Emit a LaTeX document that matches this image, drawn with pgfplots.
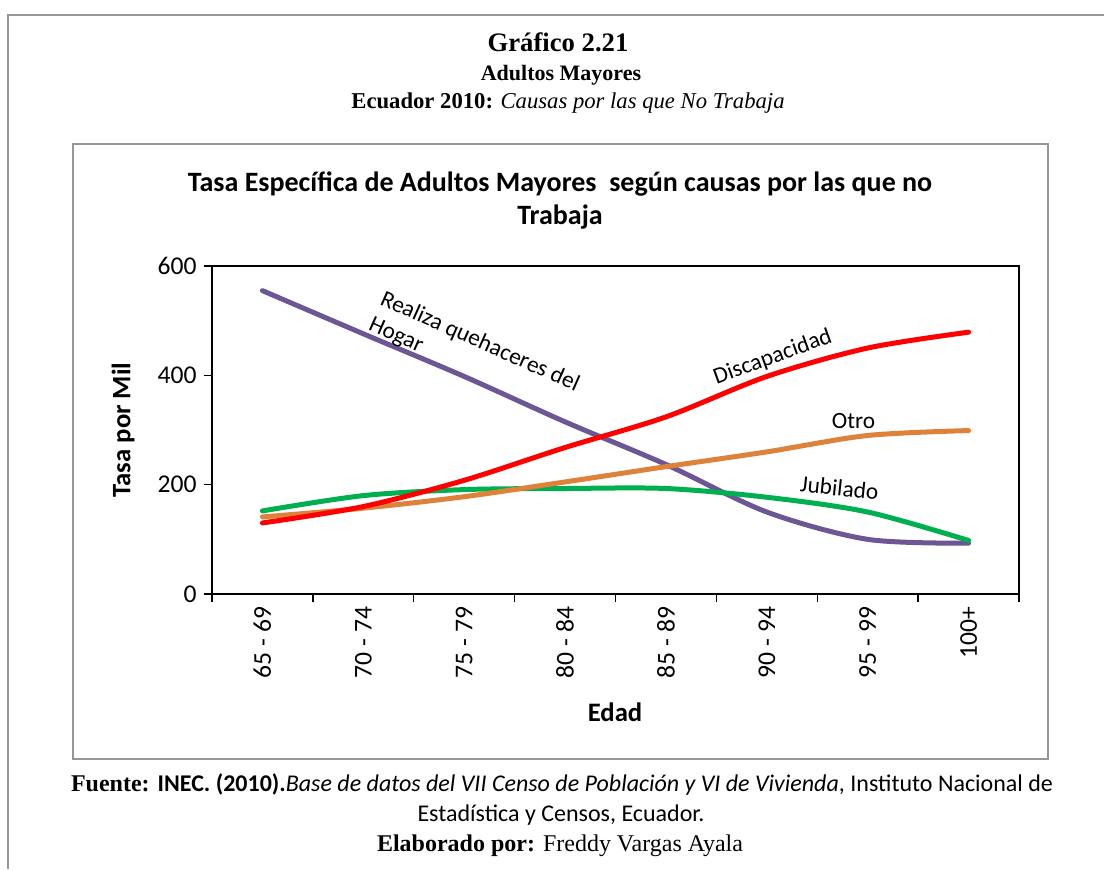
\documentclass[border=0pt]{standalone}
\usepackage{fontspec}
\setmainfont{Carlito}
\newfontfamily\tnr{Liberation Serif}
\usepackage{pgfplots}
\pgfplotsset{compat=1.18}
\definecolor{cpurple}{RGB}{108,86,148}
\definecolor{cred}{RGB}{255,0,0}
\definecolor{corange}{RGB}{222,130,58}
\definecolor{cgreen}{RGB}{0,176,80}
\definecolor{framegray}{RGB}{150,150,150}
\begin{document}
\begin{tikzpicture}
\path[use as bounding box] (0,0) rectangle (828pt,-651.75pt);
\begin{scope}[x=0.75pt,y=-0.75pt]
\draw[framegray, line width=1.5pt] (8,869) -- (8,15) -- (1104,15);
\draw[framegray, line width=1.1pt] (73,144) rectangle (1048,759);
\node[font=\tnr\bfseries\fontsize{20}{24}\selectfont, anchor=base, inner sep=0] at (558,51) {Gráfico 2.21};
\node[font=\tnr\bfseries\fontsize{16.5}{20}\selectfont, anchor=base, inner sep=0] at (561,80) {Adultos Mayores};
\node[font=\tnr\fontsize{17}{20}\selectfont, anchor=base, inner sep=0] at (568,108) {\textbf{Ecuador 2010:} \textit{Causas por las que No Trabaja}};
\node[font=\bfseries\fontsize{21}{25}\selectfont, anchor=base, inner sep=0] at (560,191) {Tasa Específica de Adultos Mayores\ \ según causas por las que no};
\node[font=\bfseries\fontsize{21}{25}\selectfont, anchor=base, inner sep=0] at (560,224) {Trabaja};
\node[font=\bfseries\fontsize{20}{24}\selectfont, rotate=90, inner sep=0] at (123,430) {Tasa por Mil};
\node[font=\bfseries\fontsize{20}{24}\selectfont, inner sep=0] at (615,712) {Edad};
\node[font=\fontsize{18}{22}\selectfont, anchor=base, inner sep=0] at (562,791) {{\tnr\bfseries Fuente: }\textbf{INEC. (2010).}\textit{Base de datos del VII Censo de Población y VI de Vivienda}, Instituto Nacional de};
\node[font=\fontsize{18}{22}\selectfont, anchor=base, inner sep=0] at (561,821) {Estadística y Censos, Ecuador.};
\node[font=\tnr\fontsize{18}{22}\selectfont, anchor=base, inner sep=0] at (560,851) {\textbf{Elaborado por:} Freddy Vargas Ayala};
\end{scope}
\begin{axis}[
  at={(159pt,-445.5pt)}, anchor=south west,
  width=605.25pt, height=246pt, scale only axis,
  xmin=-0.5, xmax=7.5, ymin=0, ymax=600,
  xtick={-0.5,0.5,...,7.5},
  x tick label as interval,
  xticklabels={65 - 69,70 - 74,75 - 79,80 - 84,85 - 89,90 - 94,95 - 99,100+},
  ytick={0,200,400,600},
  tick align=outside, major tick length=6pt,
  tick style={black, line width=1pt},
  xtick pos=bottom, ytick pos=left,
  axis line style={black, line width=1.2pt},
  /pgf/number format/assume math mode=true,
  xticklabel style={rotate=90, anchor=east, font=\fontsize{19.2}{21}\selectfont},
  yticklabel style={xshift=-2pt, font=\fontsize{19.2}{21}\selectfont},
  every axis plot/.append style={line width=3.75pt, line cap=round, line join=round, smooth, tension=0.5},
]
\addplot[cpurple] coordinates {(0,555) (1,476) (2,398) (3,315) (4,237) (5,150) (6,100) (7,93)};
\addplot[cgreen] coordinates {(0,152) (1,180) (2,191) (3,193) (4,193) (5,177) (6,150) (7,98)};
\addplot[corange] coordinates {(0,141) (1,157) (2,178) (3,205) (4,233) (5,260) (6,290) (7,299)};
\addplot[cred] coordinates {(0,130) (1,160) (2,208) (3,268) (4,324) (5,398) (6,450) (7,479)};
\node[rotate=-24, anchor=north west, align=left, inner sep=0, font=\fontsize{17.5}{21}\selectfont] at (axis cs:1.22,558) {Realiza quehaceres del\\Hogar};
\node[rotate=20, inner sep=0, font=\fontsize{17.5}{21}\selectfont] at (axis cs:5.06,433) {Discapacidad};
\node[inner sep=0, font=\fontsize{17.5}{21}\selectfont] at (axis cs:5.86,316) {Otro};
\node[rotate=-6, inner sep=0, font=\fontsize{17.5}{21}\selectfont] at (axis cs:5.72,194) {Jubilado};
\end{axis}
\end{tikzpicture}
\end{document}
